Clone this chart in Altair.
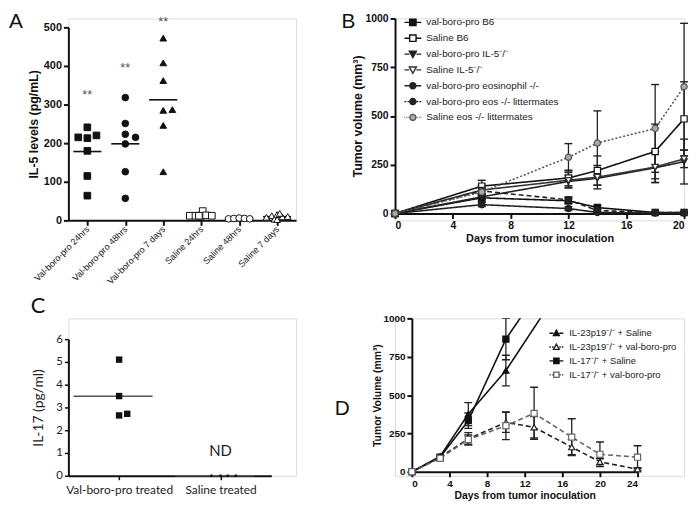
import json
import altair as alt
import pandas as pd

FONT = "Liberation Sans"
CFONT = "Lato"
INK = "#111111"

# ---------------- Panel A : IL-5 levels ----------------
a_groups = ["Val-boro-pro 24hrs", "Val-boro-pro 48hrs", "Val-boro-pro 7 days",
            "Saline 24hrs", "Saline 48hrs", "Saline 7 days"]
a_values = [
    [241, 215, 213, 220, 180, 115, 64],
    [318, 251, 223, 215, 198, 126, 57],
    [472, 408, 362, 285, 287, 246, 126],
    [12, 12, 12, 24, 13, 12, 12],
    [4, 5, 6, 5, 4],
    [8, 12, 15, 9, 10, 3, 18, 2],
]
a_jitter = [
    [0, -0.24, 0, 0.24, 0, 0, 0],
    [0, 0, 0, 0.27, 0, 0, 0],
    [0, 0, 0, 0, 0.24, 0, 0],
    [-0.3, -0.15, 0, 0.04, 0.13, 0.28, -0.06],
    [-0.28, -0.14, 0, 0.14, 0.28],
    [-0.28, -0.14, 0, 0.14, 0.28, -0.07, 0.07, 0.0],
]
a_shapes = ["square", "circle", "triangle-up", "square", "circle", "triangle-up"]
a_fills = [INK, INK, INK, "white", "white", "white"]
a_sizes = [45, 45, 50, 30, 25, 30]
a_star_idx = [0, 1, 2]
a_star_y = [331, 400, 518]

# ---------------- Panel B : tumour volume ----------------
b_days = [0, 6, 12, 14, 18, 20]
b_series = ["val-boro-pro B6", "Saline B6", "val-boro-pro IL-5\u207b/\u207b",
            "Saline IL-5\u207b/\u207b", "val-boro-pro eosinophil -/-",
            "val-boro-pro eos -/- littermates", "Saline eos -/- littermates"]
b_vals = [
    [0, 80, 65, 30, 5, 5],
    [0, 140, 182, 220, 318, 485],
    [0, 85, 164, 180, 234, 266],
    [0, 120, 170, 186, 238, 280],
    [0, 45, 25, 5, 2, 2],
    [0, 115, 70, 15, 5, 5],
    [0, 110, 288, 361, 436, 650],
]
b_errs = [
    [0, 20, 15, 10, 4, 4],
    [0, 30, 40, 75, 140, 190],
    [0, 15, 30, 35, 75, 115],
    [0, 25, 40, 60, 80, 45],
    [0, 10, 10, 5, 2, 2],
    [0, 20, 15, 10, 4, 4],
    [0, 20, 70, 165, 225, 325],
]

# ---------------- Panel C : IL-17 ----------------
c_groups = ["Val-boro-pro treated", "Saline treated"]
c_values = [[5.1, 3.5, 2.65, 2.72], [0, 0, 0, 0]]
c_jitter = [[0, 0, 0, 0.08], [-0.09, 0, 0.07, 0.15]]
c_sizes = [42, 6]
c_nd_idx = [1]
c_nd_y = [1.1]
c_nd_text = ["ND"]

# ---------------- Panel D : tumour volume ----------------
d_series = ["IL-23p19\u207b/\u207b + Saline", "IL-23p19\u207b/\u207b + val-boro-pro",
            "IL-17\u207b/\u207b + Saline", "IL-17\u207b/\u207b + val-boro-pro"]
d_days = [
    [0, 3, 6, 10, 17],
    [0, 3, 6, 10, 13, 17, 20, 24],
    [0, 3, 6, 10, 13],
    [0, 3, 6, 10, 13, 17, 20, 24],
]
d_vals = [
    [0, 100, 376, 660, 1311],
    [0, 95, 215, 322, 290, 161, 65, 17],
    [0, 95, 333, 865, 1135],
    [0, 88, 210, 300, 381, 226, 114, 95],
]
d_errs = [
    [0, 10, 75, 100, 0],
    [0, 10, 40, 65, 70, 50, 20, 10],
    [0, 10, 50, 135, 0],
    [0, 10, 30, 90, 170, 120, 80, 75],
]

# ---------------- styles ----------------
SOL = "M-1,0L-0.42,0M0.42,0L1,0"
DASH = "M-1,0L-0.78,0M-0.64,0L-0.42,0M0.42,0L0.64,0M0.78,0L1,0"
DOT = "M-1,0L-0.92,0M-0.8,0L-0.72,0M-0.6,0L-0.52,0M0.52,0L0.6,0M0.72,0L0.8,0M0.92,0L1,0"
SQ = "M-0.38,-0.38L0.38,-0.38L0.38,0.38L-0.38,0.38Z"
TD = "M-0.42,-0.34L0.42,-0.34L0,0.42Z"
TU = "M-0.42,0.34L0.42,0.34L0,-0.42Z"
CI = "M0.36,0A0.36,0.36,0,1,1,-0.36,0A0.36,0.36,0,1,1,0.36,0Z"

b_shapes = ["square", "square", "triangle-down", "triangle-down", "circle", "circle", "circle"]
b_fills = [INK, "white", "#222222", "white", "#222222", "#222222", "#aaaaaa"]
b_strokes = [INK, INK, "#222222", "#333333", "#222222", "#222222", "#555555"]
b_dash = [[1, 0], [1, 0], [1, 0], [1, 0], [1, 0], [5, 3], [2, 2]]
b_paths = [SOL + SQ, SOL + SQ, SOL + TD, SOL + TD, SOL + CI, DASH + CI, DOT + CI]

d_shapes = ["triangle-up", "triangle-up", "square", "square"]
d_fills = [INK, "white", INK, "white"]
d_strokes = [INK, "#222222", INK, "#666666"]
d_dash = [[1, 0], [5, 3], [1, 0], [5, 3]]
d_paths = [SOL + TU, DASH + TU, SOL + SQ, DASH + SQ]

IND = dict(shape="independent", fill="independent", stroke="independent",
           strokeDash="independent", size="independent")

# cell sizes (all cells of a row / column share them)
W1, W2 = 230, 292
H1, H2 = 204, 159


def gp_axis(values, title=None, title_size=12, label_size=10.5, title_pad=2, **kw):
    d = dict(values=values, labelFont=FONT, labelFontSize=label_size, labelFontWeight="bold",
             labelColor=INK, tickSize=5, tickWidth=2, tickColor=INK, domainColor=INK,
             domainWidth=2, grid=False, labelPadding=2, titlePadding=title_pad)
    if title is None:
        d["title"] = None
    else:
        d.update(title=title, titleFont=FONT, titleFontSize=title_size,
                 titleFontWeight="bold", titleColor=INK)
    d.update(kw)
    return alt.Axis(**d)


def letter(ch, dx, dy, font=FONT, size=21):
    return alt.Chart(pd.DataFrame({"t": [ch]})).mark_text(
        font=font, fontSize=size, align="left", baseline="top", color=INK
    ).encode(text="t:N", x=alt.value(dx), y=alt.value(dy))


# ================= Panel A =================
df_a = pd.DataFrame([
    dict(grp=g, idx=i, val=v, xpos=i + j)
    for i, (g, vals, jits) in enumerate(zip(a_groups, a_values, a_jitter))
    for v, j in zip(vals, jits)
])
df_star = pd.DataFrame(dict(idx=a_star_idx, y=a_star_y, t=["**"] * len(a_star_idx)))
xsA = alt.Scale(domain=[-0.5, 5.5], nice=False, zero=False)
ysA = alt.Scale(domain=[0, 500], nice=False, range=[204, 9])
axA_x = gp_axis(list(range(6)), labelExpr=json.dumps(a_groups) + "[datum.value]",
                labelAngle=-45, labelAlign="right", labelBaseline="middle",
                labelFontWeight="normal", labelFontSize=9, labelOverlap=False)
axA_y = gp_axis([0, 100, 200, 300, 400, 500], title="IL-5 levels (pg/mL)",
                title_size=12.5, label_size=11, title_pad=3)

a_mean = alt.Chart(df_a).transform_aggregate(
    m="mean(val)", groupby=["grp", "idx"]
).transform_calculate(x1="datum.idx - 0.37", x2="datum.idx + 0.37").mark_rule(
    strokeWidth=1.6, color=INK
).encode(x=alt.X("x1:Q", scale=xsA, axis=axA_x), x2="x2:Q",
         y=alt.Y("m:Q", scale=ysA, axis=axA_y))
a_pts = alt.Chart(df_a).mark_point(filled=True, opacity=1, strokeWidth=1).encode(
    x=alt.X("xpos:Q", scale=xsA, axis=axA_x),
    y=alt.Y("val:Q", scale=ysA, axis=axA_y),
    shape=alt.Shape("grp:N", scale=alt.Scale(domain=a_groups, range=a_shapes), legend=None),
    fill=alt.Fill("grp:N", scale=alt.Scale(domain=a_groups, range=a_fills), legend=None),
    size=alt.Size("grp:N", scale=alt.Scale(domain=a_groups, range=a_sizes), legend=None),
    stroke=alt.value(INK),
)
a_star = alt.Chart(df_star).mark_text(font=FONT, fontSize=13, color="#555555",
                                      baseline="middle", dy=2).encode(
    x=alt.X("idx:Q", scale=xsA, axis=axA_x), y=alt.Y("y:Q", scale=ysA, axis=axA_y), text="t:N")
chartA = alt.layer(a_mean, a_pts, a_star, letter("A", -60, -7)).properties(width=W1, height=H1)

# ================= Panel B =================
df_b = pd.DataFrame([
    dict(bser=s, day=d, val=v, lo=v - e, hi=v + e, err=e)
    for s, vals, errs in zip(b_series, b_vals, b_errs)
    for d, v, e in zip(b_days, vals, errs)
])
xsB = alt.Scale(domain=[0, 20], nice=False)
ysB = alt.Scale(domain=[0, 1000], nice=False, range=[197, 0])
axB_x = gp_axis([0, 4, 8, 12, 16, 20], title="Days from tumor inoculation", title_size=11,
                title_pad=2, offset=-7)
axB_y = gp_axis([0, 250, 500, 750, 1000], title="Tumor volume (mm\u00b3)", title_size=12.5,
                title_pad=1, format="d")
xB = alt.X("day:Q", scale=xsB, axis=axB_x)

b_line = alt.Chart(df_b).mark_line(strokeWidth=1.6).encode(
    x=xB, y=alt.Y("val:Q", scale=ysB, axis=axB_y), detail="bser:N",
    stroke=alt.Stroke("bser:N", scale=alt.Scale(domain=b_series, range=b_strokes), legend=None),
    strokeDash=alt.StrokeDash("bser:N", scale=alt.Scale(domain=b_series, range=b_dash), legend=None),
)
b_err = alt.Chart(df_b).transform_filter("datum.err > 0").mark_rule(strokeWidth=1.3, color="#222222").encode(
    x=xB, y=alt.Y("lo:Q", scale=ysB, axis=axB_y), y2="hi:Q")
b_caphi = alt.Chart(df_b).transform_filter("datum.err > 0").mark_tick(
    orient="horizontal", size=8, thickness=1.4, color="#222222", opacity=1).encode(
    x=xB, y=alt.Y("hi:Q", scale=ysB, axis=axB_y))
b_caplo = alt.Chart(df_b).transform_filter("datum.err > 0 && datum.lo > 0").mark_tick(
    orient="horizontal", size=8, thickness=1.4, color="#222222", opacity=1).encode(
    x=xB, y=alt.Y("lo:Q", scale=ysB, axis=axB_y))
b_pts = alt.Chart(df_b).mark_point(filled=True, opacity=1, strokeWidth=1.2, size=40).encode(
    x=xB, y=alt.Y("val:Q", scale=ysB, axis=axB_y),
    shape=alt.Shape("bser:N", scale=alt.Scale(domain=b_series, range=b_shapes), legend=None),
    fill=alt.Fill("bser:N", scale=alt.Scale(domain=b_series, range=b_fills), legend=None),
    stroke=alt.Stroke("bser:N", scale=alt.Scale(domain=b_series, range=b_strokes), legend=None),
)
legB = dict(title=None, orient="none", legendX=8.5, legendY=-5.5, symbolSize=289,
            symbolStrokeWidth=1.4, labelFont=FONT, labelFontSize=10, labelColor="#222222",
            labelOffset=4, rowPadding=0, padding=0, labelLimit=400)
b_leg = alt.Chart(pd.DataFrame({"bleg": b_series})).transform_filter("datum.bleg == 'none'").mark_point(
    filled=True, opacity=1).encode(
    shape=alt.Shape("bleg:N", scale=alt.Scale(domain=b_series, range=b_paths), legend=alt.Legend(**legB)),
    fill=alt.Fill("bleg:N", scale=alt.Scale(domain=b_series, range=b_fills), legend=alt.Legend(**legB)),
    stroke=alt.Stroke("bleg:N", scale=alt.Scale(domain=b_series, range=b_strokes), legend=alt.Legend(**legB)),
)
chartB = alt.layer(b_line, b_err, b_caphi, b_caplo, b_pts, b_leg, letter("B", -54, -7)).resolve_scale(
    **IND).properties(width=W2, height=H1)

# ================= Panel C =================
df_c = pd.DataFrame([
    dict(cgrp=g, idx=i, val=v, xpos=i + j)
    for i, (g, vals, jits) in enumerate(zip(c_groups, c_values, c_jitter))
    for v, j in zip(vals, jits)
])
df_nd = pd.DataFrame(dict(idx=c_nd_idx, y=c_nd_y, t=c_nd_text))
xsC = alt.Scale(domain=[-0.5, 1.5], nice=False, zero=False, range=[0, 205])
ysC = alt.Scale(domain=[0, 6], nice=False, range=[159, 21])


def c_axis(values, **kw):
    d = dict(values=values, labelFont=CFONT, labelFontSize=12, labelColor="#222222",
             tickSize=4, tickWidth=1.5, tickColor=INK, domainColor=INK, domainWidth=2,
             grid=False, labelPadding=2, title=None)
    d.update(kw)
    return alt.Axis(**d)


axC_x = c_axis([0, 1], labelExpr=json.dumps(c_groups) + "[datum.value]", labelPadding=5)
axC_y = c_axis([0, 1, 2, 3, 4, 5, 6], labelFontSize=11.5, title="IL-17 (pg/ml)", titleFont=CFONT,
               titleFontSize=14, titleFontWeight="normal", titleColor="#222222", titlePadding=10)
c_mean = alt.Chart(df_c).transform_aggregate(
    m="mean(val)", groupby=["cgrp", "idx"]
).transform_calculate(x1="datum.idx - 0.45", x2="datum.idx + 0.33").mark_rule(
    strokeWidth=1.6, color="#555555"
).encode(x=alt.X("x1:Q", scale=xsC, axis=axC_x), x2="x2:Q",
         y=alt.Y("m:Q", scale=ysC, axis=axC_y))
c_pts = alt.Chart(df_c).mark_point(filled=True, opacity=1, shape="square", color=INK).encode(
    x=alt.X("xpos:Q", scale=xsC, axis=axC_x),
    y=alt.Y("val:Q", scale=ysC, axis=axC_y),
    size=alt.Size("cgrp:N", scale=alt.Scale(domain=c_groups, range=c_sizes), legend=None),
)
c_nd = alt.Chart(df_nd).mark_text(font=CFONT, fontSize=15, color="#222222").encode(
    x=alt.X("idx:Q", scale=xsC, axis=axC_x), y=alt.Y("y:Q", scale=ysC, axis=axC_y), text="t:N")
chartC = alt.layer(c_mean, c_pts, c_nd, letter("C", -38, -22, font=CFONT, size=22)).properties(
    width=W1, height=H2)

# ================= Panel D =================
df_d = pd.DataFrame([
    dict(dser=s, day=d, val=v, lo=v - e, hi=v + e, err=e)
    for s, days, vals, errs in zip(d_series, d_days, d_vals, d_errs)
    for d, v, e in zip(days, vals, errs)
])
xsD = alt.Scale(domain=[0, 24], nice=False, range=[17, 245])
ysD = alt.Scale(domain=[0, 1000], nice=False, range=[155, 0])
axD_x = gp_axis([0, 4, 8, 12, 16, 20, 24], title="Days from tumor inoculation",
                title_size=10.5, label_size=10, title_pad=2, offset=-4)
axD_y = gp_axis([0, 250, 500, 750, 1000], title="Tumor Volume (mm\u00b3)",
                title_size=10.5, label_size=10, title_pad=0, format="d", offset=-17)
xD = alt.X("day:Q", scale=xsD, axis=axD_x)

d_line = alt.Chart(df_d).mark_line(strokeWidth=1.6, clip=True).encode(
    x=xD, y=alt.Y("val:Q", scale=ysD, axis=axD_y), detail="dser:N",
    stroke=alt.Stroke("dser:N", scale=alt.Scale(domain=d_series, range=d_strokes), legend=None),
    strokeDash=alt.StrokeDash("dser:N", scale=alt.Scale(domain=d_series, range=d_dash), legend=None),
)
d_err = alt.Chart(df_d).transform_filter("datum.err > 0").mark_rule(
    strokeWidth=1.3, color="#222222", clip=True).encode(
    x=xD, y=alt.Y("lo:Q", scale=ysD, axis=axD_y), y2="hi:Q")
d_caphi = alt.Chart(df_d).transform_filter("datum.err > 0").mark_tick(
    orient="horizontal", size=8, thickness=1.4, color="#222222", opacity=1, clip=True).encode(
    x=xD, y=alt.Y("hi:Q", scale=ysD, axis=axD_y))
d_caplo = alt.Chart(df_d).transform_filter("datum.err > 0 && datum.lo > 0").mark_tick(
    orient="horizontal", size=8, thickness=1.4, color="#222222", opacity=1, clip=True).encode(
    x=xD, y=alt.Y("lo:Q", scale=ysD, axis=axD_y))
d_pts = alt.Chart(df_d).mark_point(filled=True, opacity=1, strokeWidth=1.2, size=38, clip=True).encode(
    x=xD, y=alt.Y("val:Q", scale=ysD, axis=axD_y),
    shape=alt.Shape("dser:N", scale=alt.Scale(domain=d_series, range=d_shapes), legend=None),
    fill=alt.Fill("dser:N", scale=alt.Scale(domain=d_series, range=d_fills), legend=None),
    stroke=alt.Stroke("dser:N", scale=alt.Scale(domain=d_series, range=d_strokes), legend=None),
)
legD = dict(title=None, orient="none", legendX=155, legendY=7, symbolSize=196,
            symbolStrokeWidth=1.4, labelFont=FONT, labelFontSize=9.5, labelColor="#222222",
            labelOffset=5, rowPadding=0, padding=0, labelLimit=400)
d_leg = alt.Chart(pd.DataFrame({"dleg": d_series})).transform_filter("datum.dleg == 'none'").mark_point(
    filled=True, opacity=1).encode(
    shape=alt.Shape("dleg:N", scale=alt.Scale(domain=d_series, range=d_paths), legend=alt.Legend(**legD)),
    fill=alt.Fill("dleg:N", scale=alt.Scale(domain=d_series, range=d_fills), legend=alt.Legend(**legD)),
    stroke=alt.Stroke("dleg:N", scale=alt.Scale(domain=d_series, range=d_strokes), legend=alt.Legend(**legD)),
)
chartD = alt.layer(d_line, d_err, d_caphi, d_caplo, d_pts, d_leg, letter("D", -61, 81)).resolve_scale(
    **IND).properties(width=W2, height=H2)

# ================= layout =================
chart = alt.concat(
    chartA, chartB, chartC, chartD, columns=2,
    spacing={"row": 99, "column": 100}, bounds="flush",
).resolve_scale(**IND).properties(
    padding={"left": 0, "top": 0, "right": 0, "bottom": 0}
).configure_view(stroke=None).configure(background="white")

chart.save("out.html", embed_options={"renderer": "svg", "actions": False})
